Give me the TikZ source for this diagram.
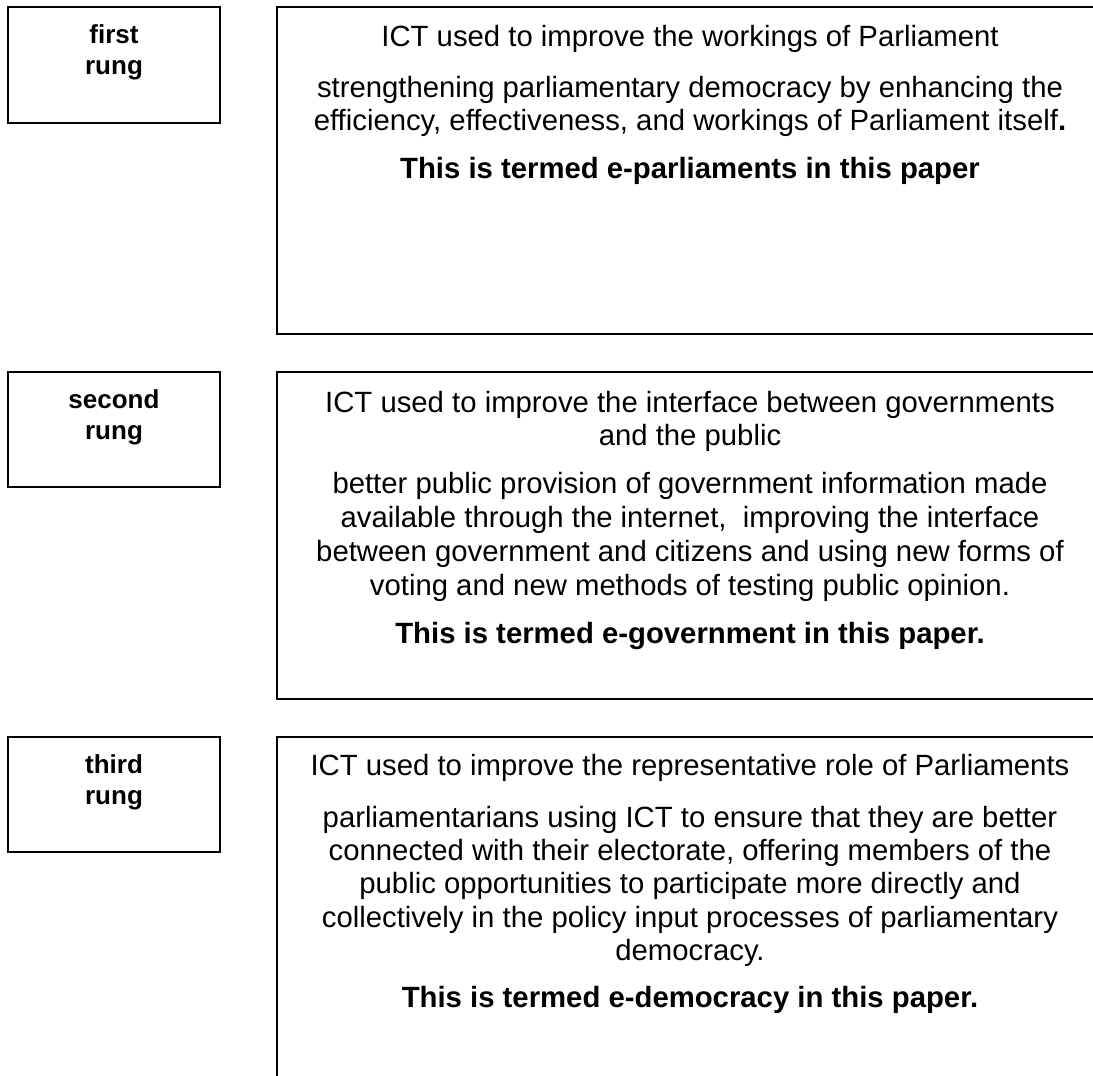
\documentclass[tikz,border=0pt]{standalone}
\usepackage{fontspec}
\setmainfont{Liberation Sans}
\begin{document}
\begin{tikzpicture}[x=1pt,y=-1pt,
  box/.style={draw=black,line width=1.6pt,anchor=north west,inner sep=0pt,outer sep=0pt},
  txt/.style={anchor=base,inner sep=0pt,font=\fontsize{29.3}{35}\selectfont},
  btxt/.style={anchor=base,inner sep=0pt,font=\fontsize{29.3}{35}\selectfont\bfseries},
  lbl/.style={anchor=base,inner sep=0pt,font=\fontsize{26}{30}\selectfont\bfseries}]
\useasboundingbox (0,0) rectangle (1093,1076);
\clip (0,0) rectangle (1093,1076);
% left boxes
\node[box,minimum width=212pt,minimum height=116pt] (l1) at (8,7) {};
\node[box,minimum width=212pt,minimum height=115pt] (l2) at (8,372) {};
\node[box,minimum width=212pt,minimum height=115pt] (l3) at (8,737) {};
% right boxes (cut off at the picture edge)
\node[box,minimum width=826pt,minimum height=327pt] (r1) at (277,7) {};
\node[box,minimum width=826pt,minimum height=327pt] (r2) at (277,372) {};
\node[box,minimum width=826pt,minimum height=400pt] (r3) at (277,737) {};
% labels
\node[lbl] (l1a) at (114,43.5) {first};
\node[lbl] (l1b) at (114,74.5) {rung};
\node[lbl] (l2a) at (114,408.5) {second};
\node[lbl] (l2b) at (114,439.5) {rung};
\node[lbl] (l3a) at (114,773.5) {third};
\node[lbl] (l3b) at (114,804.5) {rung};
% box 1 text
\node[txt] (t11) at (690,46) {ICT used to improve the workings of Parliament};
\node[txt] (t12) at (690,97) {strengthening parliamentary democracy by enhancing the};
\node[txt] (t13) at (690,130) {efficiency, effectiveness, and workings of Parliament itself\textbf{.}};
\node[btxt] (t14) at (690,178) {This is termed e-parliaments in this paper};
% box 2 text
\node[txt] (t21) at (690,412) {ICT used to improve the interface between governments};
\node[txt] (t22) at (690,445) {and the public};
\node[txt] (t23) at (690,493) {better public provision of government information made};
\node[txt] (t24) at (690,527) {available through the internet,\ \ improving the interface};
\node[txt] (t25) at (690,561) {between government and citizens and using new forms of};
\node[txt] (t26) at (690,595) {voting and new methods of testing public opinion.};
\node[btxt] (t27) at (690,643) {This is termed e-government in this paper.};
% box 3 text
\node[txt] (t31) at (690,775) {ICT used to improve the representative role of Parliaments};
\node[txt] (t32) at (690,827) {parliamentarians using ICT to ensure that they are better};
\node[txt] (t33) at (690,860) {connected with their electorate, offering members of the};
\node[txt] (t34) at (690,893) {public opportunities to participate more directly and};
\node[txt] (t35) at (690,927) {collectively in the policy input processes of parliamentary};
\node[txt] (t36) at (690,960) {democracy.};
\node[btxt] (t37) at (690,1007) {This is termed e-democracy in this paper.};
\end{tikzpicture}
\end{document}
